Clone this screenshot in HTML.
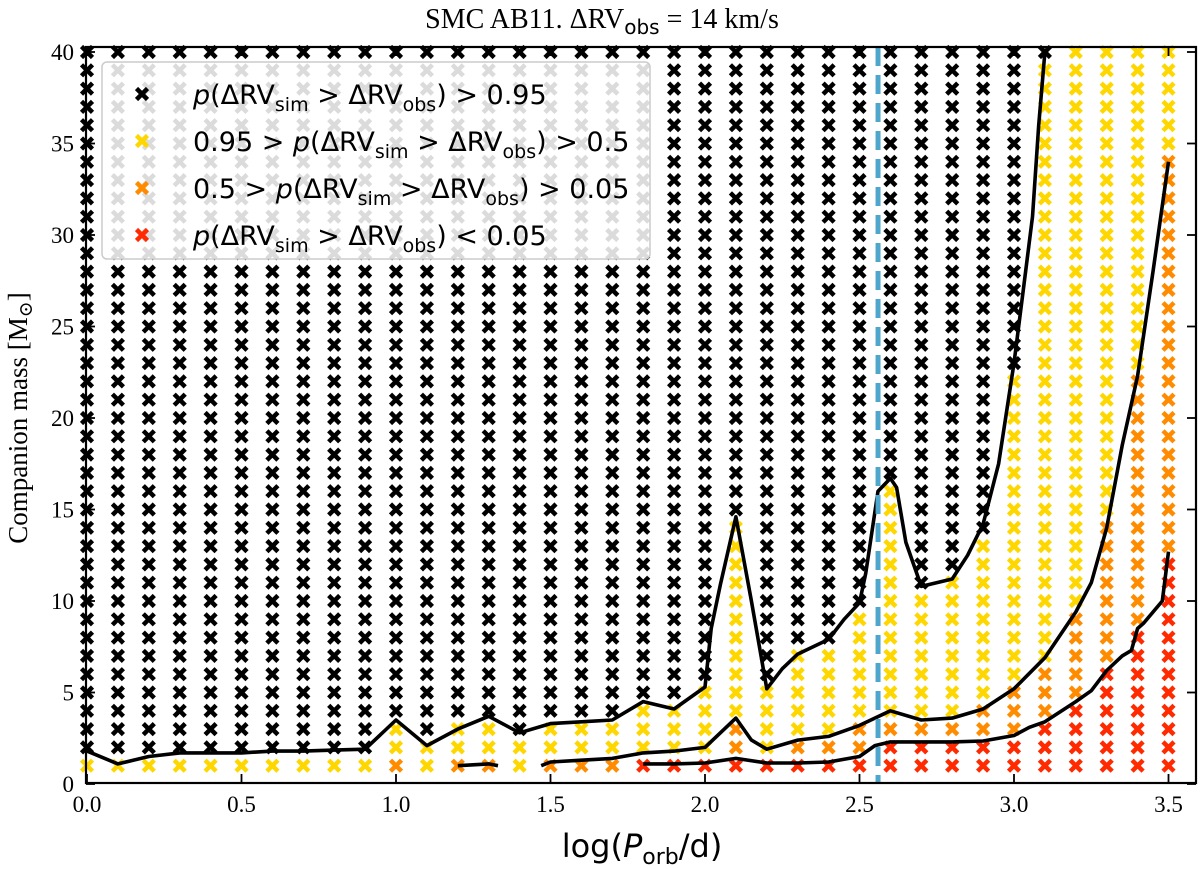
<!DOCTYPE html>
<html><head><meta charset="utf-8"><style>
html,body{margin:0;padding:0;background:#fff;}
svg{display:block;}
.serif{font-family:"Liberation Serif","DejaVu Serif",serif;}
.sans{font-family:"DejaVu Sans","Liberation Sans",sans-serif;}
</style></head><body>
<svg id="chart" width="1200" height="869" viewBox="0 0 1200 869" xmlns="http://www.w3.org/2000/svg">
<g id="marks"></g>
<g id="curves"></g>
<g id="axes"></g>
<text class="serif" x="602" y="28" font-size="28" text-anchor="middle">SMC AB11. ΔRV<tspan class="sans" font-size="20" dy="6">obs</tspan><tspan dy="-6"> = 14 km/s</tspan></text>
<text class="serif" font-size="27" text-anchor="middle" transform="translate(27,418) rotate(-90)">Companion mass [M<tspan font-size="19" dy="5">⊙</tspan><tspan dy="-5">]</tspan></text>
<text class="sans" x="642" y="857" font-size="32" text-anchor="middle">log(<tspan font-style="italic">P</tspan><tspan font-size="22" dy="7">orb</tspan><tspan dy="-7">/d)</tspan></text>
<g id="legend"></g>
</svg>
<script>
// ---- data ----
const columns = [0.0,0.1,0.2,0.3,0.4,0.5,0.6,0.7,0.8,0.9,1.0,1.1,1.2,1.3,1.4,1.5,1.6,1.7,1.8,1.9,2.0,2.1,2.2,2.3,2.4,2.5,2.6,2.7,2.8,2.9,3.0,3.1,3.2,3.3,3.4,3.5];
const massRows = Array.from({length:40},(_,i)=>i+1);
const nonBlackTop = [1,1,1,1,1,1,1,1,1,1,3,2,3,3,2,3,3,3,4,4,5,14,5,7,7,9,16,10,11,13,22,39,40,40,40,40];
const orangeTop   = [0,0,0,0,0,0,0,0,0,0,1,0,1,1,0,1,1,1,1,1,1,3,1,2,2,3,3,3,3,4,5,6,9,14,22,34];
const redTop      = [0,0,0,0,0,0,0,0,0,0,0,0,0,0,0,0,0,0,1,1,1,1,1,1,1,1,2,2,2,2,2,3,4,6,8,12];
const topCurveX = [0,0.1,0.2,0.3,0.4,0.5,0.6,0.7,0.8,0.9,1.0,1.1,1.2,1.3,1.4,1.5,1.6,1.7,1.8,1.9,2.0,2.02,2.05,2.1,2.15,2.2,2.25,2.3,2.4,2.45,2.5,2.52,2.56,2.6,2.62,2.65,2.7,2.8,2.85,2.9,2.95,3.0,3.03,3.06,3.08,3.1];
const topCurveY = [1.8,1.1,1.5,1.7,1.7,1.7,1.8,1.8,1.85,1.9,3.5,2.1,3.0,3.7,2.8,3.3,3.4,3.5,4.5,4.1,5.3,8.5,10.9,14.6,10,5.2,6.3,7.1,7.9,9,9.9,11.5,16,16.7,16.2,13.2,10.8,11.2,12.5,14.2,17.5,23,27,31,36,40];
const midSeg1X = [1.2,1.3,1.33];
const midSeg1Y = [1.0,1.1,1.0];
const midSeg2X = [1.47,1.5,1.6,1.7,1.8,1.9,2.0,2.1,2.15,2.2,2.3,2.4,2.5,2.6,2.7,2.8,2.9,3.0,3.1,3.2,3.25,3.3,3.35,3.4,3.45,3.5];
const midSeg2Y = [1.0,1.2,1.3,1.4,1.7,1.8,2.0,3.6,2.4,1.9,2.4,2.6,3.2,4.0,3.5,3.6,4.1,5.2,6.9,9.4,11,14,18.5,22.3,28,34];
const lowCurveX = [1.8,1.9,2.0,2.1,2.2,2.3,2.4,2.5,2.55,2.6,2.7,2.8,2.9,3.0,3.05,3.1,3.2,3.25,3.3,3.35,3.38,3.4,3.42,3.48,3.5];
const lowCurveY = [1.1,1.1,1.15,1.4,1.15,1.15,1.2,1.5,2.1,2.3,2.3,2.3,2.35,2.65,3.1,3.4,4.5,5.1,6.2,7.0,7.3,8.5,8.8,10,12.7];
const periodLine = 2.56;
const xTicks = [0.0,0.5,1.0,1.5,2.0,2.5,3.0,3.5];
const yTicks = [0,5,10,15,20,25,30,35,40];
const legendLabels = ['black','yellow','orange','red'];

// ---- scales ----
const PL=86, PR=1196, PT=47, PB=783;
const xs = v => 87 + v*309;
const ys = v => 784 - v*18.3;
const NS='http://www.w3.org/2000/svg';
function mk(tag, attrs, parent){const e=document.createElementNS(NS,tag);for(const k in attrs)e.setAttribute(k,attrs[k]);parent.appendChild(e);return e;}
const COL={black:'#000',yellow:'#ffd700',orange:'#ff8c00',red:'#ff2a00'};

function cross(g,cx,cy,color,s,w){
  mk('path',{d:`M${cx-s},${cy-s}L${cx+s},${cy+s}M${cx-s},${cy+s}L${cx+s},${cy-s}`,stroke:color,'stroke-width':w,fill:'none'},g);
}
const marks=document.getElementById('marks');
columns.forEach((c,i)=>{
  massRows.forEach(m=>{
    let col='black';
    if(m<=redTop[i]) col='red'; else if(m<=orangeTop[i]) col='orange'; else if(m<=nonBlackTop[i]) col='yellow';
    const g=mk('g',{},marks);
    
    
    cross(g,xs(c),ys(m),COL[col],5.5,4.5);
  });
});
const curves=document.getElementById('curves');
function line(X,Y,name){
  const d=X.map((x,i)=>(i?'L':'M')+xs(x).toFixed(1)+','+ys(Y[i]).toFixed(1)).join('');
  const p=mk('path',{d,fill:'none',stroke:'#000','stroke-width':3.6,'stroke-linejoin':'round'},curves);
  
  
}
line(topCurveX,topCurveY,'contour-095');
line(midSeg1X,midSeg1Y,'contour-05-seg1');
line(midSeg2X,midSeg2Y,'contour-05-seg2');
line(lowCurveX,lowCurveY,'contour-005');
const dl=mk('line',{x1:xs(periodLine),x2:xs(periodLine),y1:PT,y2:PB,stroke:'#4fa6cc','stroke-width':5,'stroke-dasharray':'19,9'},curves);



// axes
const axes=document.getElementById('axes');
const fr=mk('rect',{x:PL,y:PT,width:PR-PL,height:PB-PT,fill:'none',stroke:'#000','stroke-width':2.2},axes);


xTicks.forEach(t=>{
  const x=xs(t);
  mk('line',{x1:x,x2:x,y1:PB,y2:PB-9,stroke:'#000','stroke-width':1.8},axes);
  mk('line',{x1:x,x2:x,y1:PT,y2:PT+9,stroke:'#000','stroke-width':1.8},axes);
  const tx=mk('text',{x:x,y:PB+29,'font-size':23,'text-anchor':'middle',class:'serif'},axes);
  tx.textContent=t.toFixed(1);
  
  
});
yTicks.forEach(t=>{
  const y=ys(t);
  mk('line',{x1:PL,x2:PL+9,y1:y,y2:y,stroke:'#000','stroke-width':1.8},axes);
  mk('line',{x1:PR,x2:PR-9,y1:y,y2:y,stroke:'#000','stroke-width':1.8},axes);
  const tx=mk('text',{x:PL-12,y:y+8,'font-size':23,'text-anchor':'end',class:'serif'},axes);
  tx.textContent=String(t);
  
  
});

// legend
const lg=document.getElementById('legend');
mk('rect',{x:102,y:62,width:548,height:197,rx:5,fill:'rgba(255,255,255,0.86)',stroke:'#cccccc','stroke-width':1.5},lg);
const sub = s => `<tspan font-size="19" dy="7">${s}</tspan><tspan dy="-7">`;
const texts=[
 `<tspan font-style="italic">p</tspan>(ΔRV${sub('sim')} &gt; ΔRV</tspan>${sub('obs')}) &gt; 0.95</tspan>`,
 `0.95 &gt; <tspan font-style="italic">p</tspan>(ΔRV${sub('sim')} &gt; ΔRV</tspan>${sub('obs')}) &gt; 0.5</tspan>`,
 `0.5 &gt; <tspan font-style="italic">p</tspan>(ΔRV${sub('sim')} &gt; ΔRV</tspan>${sub('obs')}) &gt; 0.05</tspan>`,
 `<tspan font-style="italic">p</tspan>(ΔRV${sub('sim')} &gt; ΔRV</tspan>${sub('obs')}) &lt; 0.05</tspan>`
];
legendLabels.forEach((c,i)=>{
  const y=94+i*47;
  const g=mk('g',{},lg);
  
  
  cross(g,142,y,COL[c],5.5,4.5);
  const t=mk('text',{x:193,y:y+10,'font-size':27,class:'sans'},g);
  t.innerHTML=texts[i];
});
</script>
</body></html>
